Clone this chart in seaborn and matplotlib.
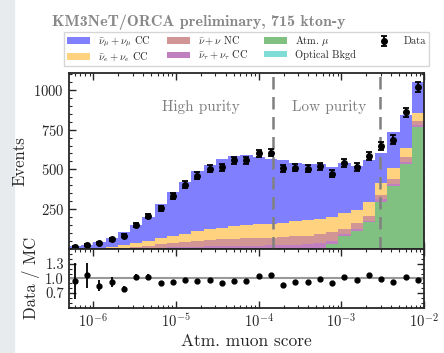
import numpy as np
import pandas as pd
import matplotlib
matplotlib.use("Agg")
import matplotlib.pyplot as plt
from matplotlib.patches import Patch, Rectangle
import seaborn as sns

# ---------------- data ----------------
log_lo, log_hi, n_bins = -6.296, -2.0, 29
atm_mu  = [0,0,0,0,0,0,0,0,0,0,0,0,0,0,0,0,0,1,2,3,8,30,83,110,167,296,396,531,767]
nu_tau  = [0.5,1,1,2,3,4,6,8,10,12,14,15,17,18,19,20,22,23,24,25,26,18,11,15,10,16,10,17,14]
nu_nc   = [0.5,1,2,3,5,8,12,20,26,32,36,41,43,46,48,47,48,52,52,56,58,56,31,37,31,25,31,31,21]
nu_e_cc = [1,2,5,9,16,26,34,39,46,52,65,69,73,82,81,88,88,89,95,97,95,94,100,84,84,75,69,58,54]
nu_mu_cc= [13,20,37,52,80,110,148,213,278,325,374,400,432,437,440,423,410,391,369,354,345,319,315,276,268,193,229,206,196]
optical = [0]*29
data_counts = [14,25,40,60,83,152,206,254,331,404,460,504,512,556,556,600,606,506,510,504,519,473,540,515,583,646,688,858,1021]
ratio = [0.94,1.06,0.85,0.92,0.78,1.03,1.03,0.90,0.92,0.96,0.94,0.96,0.90,0.95,0.94,1.04,1.07,0.87,0.92,0.92,0.99,0.90,1.03,0.97,1.06,0.98,0.92,1.02,0.97]
ratio_err = [0.37,0.25,0.11,0.10,0.07,0.06,0.05,0.045,0.04,0.04,0.035,0.035,0.035,0.035,0.035,0.035,0.035,0.035,0.035,0.035,0.035,0.035,0.035,0.035,0.035,0.03,0.03,0.03,0.03]
cut_high, cut_low = 1.5e-4, 2.9e-3

labels = [r"$\bar{\nu}_\mu + \nu_\mu$ CC", r"$\bar{\nu}_e + \nu_e$ CC", r"$\bar{\nu} + \nu$ NC",
          r"$\bar{\nu}_\tau + \nu_\tau$ CC", r"Atm. $\mu$", "Optical Bkgd"]
series = [nu_mu_cc, nu_e_cc, nu_nc, nu_tau, atm_mu, optical]
colors = ["#8080ff", "#ffd280", "#d29595", "#c080c0", "#80c080", "#80dcd6"]

# ---------------- style ----------------
sns.set_style("ticks")
plt.rcParams.update({
    "font.family": ["serif"],
    "font.serif": ["cmr10", "DejaVu Serif"],
    "mathtext.fontset": "cm",
    "axes.formatter.use_mathtext": True,
    "axes.unicode_minus": False,
})

edges = np.logspace(log_lo, log_hi, n_bins + 1)
centers = np.sqrt(edges[:-1] * edges[1:])

rows = []
for lab, vals in zip(labels, series):
    for c, v in zip(centers, vals):
        rows.append({"x": c, "w": v, "comp": lab})
df = pd.DataFrame(rows)

fig = plt.figure(figsize=(4.44, 3.53), dpi=100)
fig.patches.append(Rectangle((0, 0), 14 / 444, 1, transform=fig.transFigure,
                             color="#e8ebee", zorder=-10))
ax = fig.add_axes([0.155, 0.295, 0.80, 0.498])
axr = fig.add_axes([0.155, 0.128, 0.80, 0.167], sharex=ax)

ax.set_xscale("log")
sns.histplot(data=df, x="x", weights="w", hue="comp", hue_order=labels,
             palette=dict(zip(labels, colors)), multiple="stack", element="step",
             fill=True, bins=list(np.log10(edges)), alpha=1, linewidth=0, legend=False, ax=ax)

data_h = ax.errorbar(centers, data_counts, yerr=np.sqrt(data_counts), fmt="o", color="black",
                     ms=4, capsize=2, elinewidth=1.3, capthick=1.3, zorder=5)

for xc in (cut_high, cut_low):
    ax.axvline(xc, color="#808080", ls=(0, (5, 3)), lw=1.8, zorder=4)
ax.text(2.0e-5, 894, "High purity", color="#7f7f7f", fontsize=11, ha="center", va="center")
ax.text(7.2e-4, 894, "Low purity", color="#7f7f7f", fontsize=11, ha="center", va="center")

ax.set_xlim(edges[0], edges[-1])
ax.set_ylim(0, 1106)
ax.set_yticks([250, 500, 750, 1000])
ax.yaxis.set_minor_locator(matplotlib.ticker.MultipleLocator(50))
ax.set_ylabel("Events", fontsize=12)
ax.set_xlabel("")
ax.tick_params(axis="x", labelbottom=False)

axr.axhline(1.0, color="#999999", lw=1.5, zorder=1)
axr.errorbar(centers, ratio, yerr=ratio_err, fmt="o", color="black", ms=3.5,
             elinewidth=1.3, capsize=0, zorder=5)
axr.set_ylim(0.39, 1.61)
axr.set_yticks([0.7, 1.0, 1.3])
axr.set_yticklabels(["0.7", "1.0", "1.3"])
axr.yaxis.set_minor_locator(matplotlib.ticker.MultipleLocator(0.1))
axr.set_ylabel("Data / MC", fontsize=12)
axr.set_xlabel("Atm. muon score", fontsize=12.5, labelpad=2)
axr.set_xticks([1e-6, 1e-5, 1e-4, 1e-3, 1e-2])

for a in (ax, axr):
    a.tick_params(which="both", direction="in", top=True, right=True, labelsize=10.5)
    a.tick_params(which="major", length=5, width=1)
    a.tick_params(which="minor", length=2.5, width=0.8)
    for s in a.spines.values():
        s.set_linewidth(1.3)
fig.align_ylabels([ax, axr])

handles = [Patch(facecolor=c, edgecolor="none") for c in colors] + [data_h]
fig.legend(handles, labels + ["Data"], ncol=4, loc="lower left",
           bbox_to_anchor=(0.135, 0.80, 0.84, 0.09), mode="expand", fontsize=7.5,
           frameon=True, edgecolor="#cccccc", fancybox=False, handlelength=2.2,
           handleheight=0.6, columnspacing=1.0, handletextpad=0.8, borderpad=0.25,
           labelspacing=0.12, borderaxespad=0.4)

fig.text(0.448, 0.938, "KM3NeT/ORCA preliminary, 715 kton-y", color="#888888",
         fontsize=11.5, ha="center", va="center", family=["cmb10", "DejaVu Serif"])

fig.savefig("out.png", dpi=100)
